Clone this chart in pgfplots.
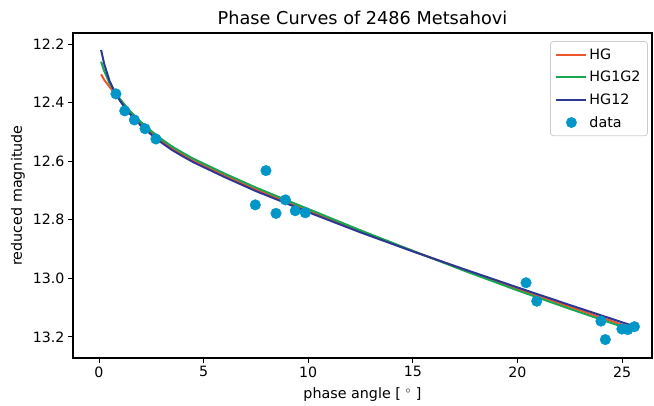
\documentclass[border=0pt]{standalone}
\usepackage{fontspec}
\setmainfont{DejaVu Sans}
\usepackage{pgfplots}
\pgfplotsset{compat=1.18}

\definecolor{hgc}{RGB}{238,85,45}
\definecolor{hgggc}{RGB}{25,166,80}
\definecolor{hgtwc}{RGB}{45,55,145}
\definecolor{datac}{RGB}{0,150,200}

\pgfplotsset{
  linelegend/.style={legend image code/.code={\draw[##1] (0pt,0pt) -- (30pt,0pt);}},
}

\begin{document}
\begin{tikzpicture}
\begin{axis}[
  scale only axis, width=579pt, height=325pt,
  xmin=-1.243, xmax=26.43, ymin=12.162, ymax=13.272, y dir=reverse,
  xtick={0,5,10,15,20,25}, ytick={12.2,12.4,12.6,12.8,13.0,13.2},
  yticklabel style={/pgf/number format/.cd, fixed, fixed zerofill, precision=1},
  /pgf/number format/assume math mode=true,
  tick align=outside, tick pos=left, major tick length=5pt,
  every tick/.style={black, line width=1pt},
  axis line style={line width=1.1pt},
  tick label style={font=\fontsize{14.2}{17}\selectfont},
  label style={font=\fontsize{14.3}{17}\selectfont},
  title={Phase Curves of 2486 Metsahovi},
  title style={font=\fontsize{17.7}{21}\selectfont, at={(axis description cs:0.5,1.029)}, anchor=center},
  xlabel={phase angle [\,\,$^\circ$\,\,]},
  xlabel style={at={(axis description cs:0.5,-0.114)}, anchor=center},
  ylabel={reduced magnitude},
  ylabel style={at={(axis description cs:-0.095,0.5)}, anchor=center},
  legend style={at={(axis description cs:0.993,0.975)}, anchor=north east,
    rounded corners=3pt, draw=black!20, line width=0.8pt,
    font=\fontsize{14.3}{17}\selectfont, row sep=6.5pt, inner sep=5pt},
  legend cell align=left,
]
\addplot[hgc, line width=2pt, linelegend] coordinates {
(0.1,12.303)(0.25,12.322)(0.5,12.346)(0.8,12.372)(1,12.390)(1.25,12.413)(1.5,12.435)(2,12.472)(2.5,12.503)(3,12.531)(3.5,12.556)(4,12.577)(4.5,12.597)(5,12.614)(6,12.648)(7.5,12.696)(9,12.740)(10,12.769)(12.5,12.840)(15,12.907)(17.5,12.972)(20,13.035)(22.5,13.097)(25,13.158)(25.6,13.173)};
\addplot[hgggc, line width=2pt, linelegend] coordinates {
(0.1,12.260)(0.25,12.292)(0.5,12.333)(0.8,12.369)(1,12.387)(1.25,12.409)(1.5,12.430)(2,12.466)(2.5,12.497)(3,12.525)(3.5,12.550)(4,12.571)(4.5,12.591)(5,12.608)(6,12.642)(7.5,12.690)(9,12.734)(10,12.763)(12.5,12.836)(15,12.906)(17.5,12.975)(20,13.041)(22.5,13.104)(25,13.165)(25.6,13.179)};
\addplot[hgtwc, line width=2pt, linelegend] coordinates {
(0.1,12.220)(0.25,12.268)(0.5,12.325)(0.8,12.370)(1,12.393)(1.25,12.418)(1.5,12.440)(2,12.478)(2.5,12.509)(3,12.537)(3.5,12.562)(4,12.583)(4.5,12.603)(5,12.620)(6,12.654)(7.5,12.702)(9,12.745)(10,12.774)(12.5,12.843)(15,12.908)(17.5,12.970)(20,13.031)(22.5,13.091)(25,13.150)(25.6,13.164)};
\addplot[only marks, mark=*, mark size=5.3pt, datac, mark options={draw=datac, fill=datac},
  legend image code/.code={\fill[datac] (15pt,0pt) circle (5pt);}] coordinates {
(0.81,12.370)(1.23,12.428)(1.69,12.459)(2.20,12.489)(2.72,12.524)(7.47,12.749)(7.98,12.632)(8.46,12.778)(8.91,12.732)(9.38,12.769)(9.86,12.776)(20.41,13.015)(20.92,13.078)(23.99,13.146)(24.20,13.209)(24.99,13.173)(25.27,13.175)(25.59,13.165)};
\legend{HG,HG1G2,HG12,data}
\end{axis}
\path[use as bounding box] (-73pt,-45pt) rectangle (581pt,358pt);
\end{tikzpicture}
\end{document}
